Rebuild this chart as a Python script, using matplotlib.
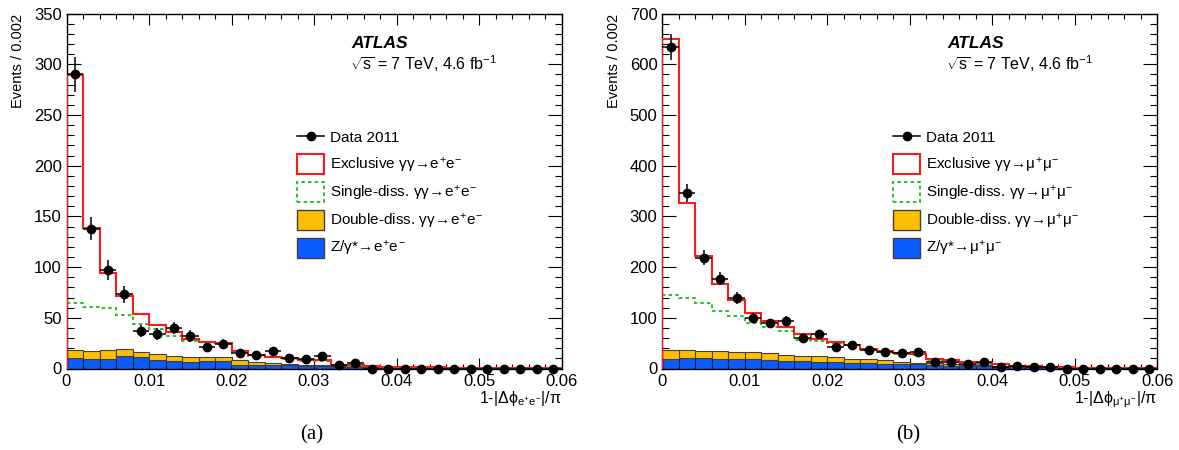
import numpy as np
import matplotlib
matplotlib.use("Agg")
import matplotlib.pyplot as plt
from matplotlib.patches import Rectangle
from matplotlib.lines import Line2D

# ---------------- data ----------------
bin_edges = np.round(np.arange(0, 0.0601, 0.002), 4)
x_ticks = [0, 0.01, 0.02, 0.03, 0.04, 0.05, 0.06]
x_ticklabels = ["0", "0.01", "0.02", "0.03", "0.04", "0.05", "0.06"]
y_ticks_ee = [0, 50, 100, 150, 200, 250, 300, 350]
y_ticks_mm = [0, 100, 200, 300, 400, 500, 600, 700]

# (a) e+e- channel: per-bin components (stacked in the plot)
z_ee = [9.9, 8.9, 9.2, 12.5, 10.9, 7.9, 7.2, 6.3, 7.2, 7.2, 3.9, 3.0, 3.3, 3.0, 2.0,
        2.3, 1.3, 1.0, 0.8, 0.7, 0.6, 0.5, 0.4, 0.4, 0.3, 0.3, 0.2, 0.2, 0.2, 0.1]
dd_ee = [7.9, 7.9, 8.6, 6.3, 5.5, 6.2, 5.6, 4.9, 4.0, 4.0, 4.0, 3.3, 2.6, 1.6, 1.9,
         1.6, 1.3, 1.0, 0.8, 0.7, 0.6, 0.5, 0.4, 0.3, 0.3, 0.2, 0.2, 0.2, 0.1, 0.1]
sd_ee = [47.2, 44.2, 42.2, 33.8, 27.4, 24.7, 19.4, 16.1, 14.5, 12.8, 8.5, 6.2, 5.0, 4.6, 3.7,
         3.3, 0.7, 0.6, 0.4, 0.2, 0.1, 0.1, 0.1, 0.0, 0.0, 0.0, 0.0, 0.0, 0.0, 0.0]
excl_ee = [224, 78, 34, 18.4, 9.8, 4.0, 3.3, 1.7, 0.9, 1.0, 1.0, 0.7, 0.6, 1.0, 0.6,
           1.0, 0.6, 0.7, 0.4, 0.3, 0.2, 0.2, 0.2, 0.1, 0.1, 0.1, 0.1, 0.1, 0.1, 0.1]
data_ee = [290, 138, 97, 73, 37, 34, 40, 32, 21, 24, 15, 13, 17, 10, 9,
           12, 3, 5, 0, 0, 0, 0, 0, 0, 0, 0, 0, 0, 0, 0]

# (b) mu+mu- channel
z_mm = [19.7, 21.0, 20.4, 18.4, 18.4, 19.7, 16.4, 15.1, 15.1, 13.8, 12.5, 11.8, 10.5, 9.2, 8.5,
        7.9, 6.6, 5.9, 5.0, 4.3, 3.6, 3.0, 2.5, 2.0, 1.6, 1.3, 1.0, 0.8, 0.6, 0.5]
dd_mm = [17.1, 15.0, 14.4, 15.8, 14.5, 11.9, 13.2, 11.9, 10.5, 9.9, 9.2, 7.9, 7.9, 7.2, 5.3,
         3.9, 3.3, 2.6, 2.0, 1.7, 1.4, 1.2, 0.9, 0.7, 0.6, 0.5, 0.4, 0.3, 0.3, 0.2]
sd_mm = [108.2, 103, 94.2, 79.8, 71.6, 59.1, 53.2, 46, 30.9, 30.9, 28.3, 26.3, 20.4, 15.8, 15.2,
         14.5, 7.1, 6.5, 6.0, 3.4, 3.0, 1.0, 0.6, 0.2, 0.1, 0.05, 0.05, 0.05, 0.05, 0.05]
excl_mm = [504, 188, 92.5, 53, 30.5, 18.3, 9.9, 7.9, 11.9, 3.9, 1.3, 1.3, 0.6, 2.6, 1.2,
           2.6, 2.0, 1.4, 0.8, 0.5, 0.5, 0.3, 0.2, 0.1, 0.1, 0.05, 0.05, 0.05, 0.05, 0.05]
data_mm = [634, 346, 218, 177, 139, 99, 89, 94, 60, 68, 43, 46, 37, 32, 31,
           32, 12, 13, 9, 12, 3, 5, 3, 3, 0, 0, 0, 0, 0, 0]

labels_ee = ["Data 2011",
             r"Exclusive $\gamma\gamma\!\rightarrow\! e^{+}e^{-}$",
             r"Single-diss. $\gamma\gamma\!\rightarrow\! e^{+}e^{-}$",
             r"Double-diss. $\gamma\gamma\!\rightarrow\! e^{+}e^{-}$",
             r"Z/$\gamma$*$\!\rightarrow\! e^{+}e^{-}$"]
labels_mm = ["Data 2011",
             r"Exclusive $\gamma\gamma\!\rightarrow\!\mu^{+}\mu^{-}$",
             r"Single-diss. $\gamma\gamma\!\rightarrow\!\mu^{+}\mu^{-}$",
             r"Double-diss. $\gamma\gamma\!\rightarrow\!\mu^{+}\mu^{-}$",
             r"Z/$\gamma$*$\!\rightarrow\!\mu^{+}\mu^{-}$"]
xlabel_ee = r"1-|$\Delta\phi_{e^{+}e^{-}}$|/$\pi$"
xlabel_mm = r"1-|$\Delta\phi_{\mu^{+}\mu^{-}}$|/$\pi$"

# ---------------- style ----------------
plt.rcParams['font.family'] = ['Liberation Sans', 'DejaVu Sans']
plt.rcParams['mathtext.fontset'] = 'custom'
plt.rcParams['mathtext.rm'] = 'Liberation Sans'
plt.rcParams['mathtext.it'] = 'Liberation Sans'
plt.rcParams['mathtext.sf'] = 'Liberation Sans'
plt.rcParams['mathtext.bf'] = 'Liberation Sans:bold'

RED = '#ff1a1a'
GREEN = '#2dbd2d'
ORANGE = '#ffbf00'
BLUE = '#0a5cff'

W, H = 1179, 450
fig = plt.figure(figsize=(W / 100, H / 100), dpi=100)

def px_axes(x0, y_top, x1, y_bot):
    return [x0 / W, 1 - y_bot / H, (x1 - x0) / W, (y_bot - y_top) / H]

ax_a = fig.add_axes(px_axes(66.5, 13.5, 561.5, 368.5))
ax_b = fig.add_axes(px_axes(662.3, 13.5, 1157.3, 368.5))

centers = 0.5 * (bin_edges[:-1] + bin_edges[1:])
widths = np.diff(bin_edges)


def draw_panel(ax, z, dd, sd, excl, data, ymax, yticks, ymin_step, labels, xlabel):
    z = np.array(z, float)
    dd = np.array(dd, float)
    sd = np.array(sd, float)
    excl = np.array(excl, float)
    data = np.array(data, float)
    lvl_dd = z + dd
    lvl_sd = lvl_dd + sd
    lvl_ex = lvl_sd + excl

    ax.bar(centers, z, width=widths, color=BLUE, edgecolor='#1a1a1a', linewidth=0.8, zorder=2)
    ax.bar(centers, dd, bottom=z, width=widths, color=ORANGE, edgecolor='#404040',
           linewidth=0.8, zorder=2)
    ax.stairs(lvl_sd, bin_edges, color=GREEN, linewidth=1.4, linestyle=(0, (1.8, 1.6)),
              baseline=None, zorder=3)
    ax.stairs(lvl_ex, bin_edges, color=RED, linewidth=1.5, baseline=0, zorder=4)

    yerr = np.sqrt(data)
    ax.errorbar(centers, data, yerr=yerr, xerr=widths / 2, fmt='o', color='black',
                markersize=6, elinewidth=1.1, capsize=0, zorder=5, clip_on=False)

    ax.set_xlim(0, 0.06)
    ax.set_ylim(0, ymax)
    ax.set_xticks(x_ticks)
    ax.set_xticklabels(x_ticklabels)
    ax.set_xticks(np.arange(0, 0.0601, 0.002), minor=True)
    ax.set_yticks(yticks)
    ax.set_yticklabels([str(v) for v in yticks])
    ax.set_yticks(np.arange(0, ymax + 0.1, ymin_step), minor=True)
    ax.tick_params(axis='both', which='both', direction='in', top=True, right=True,
                   labelsize=12, width=0.8, colors='black')
    ax.tick_params(axis='x', which='major', length=7.6, pad=4.0)
    ax.tick_params(axis='x', which='minor', length=3.8)
    ax.tick_params(axis='y', which='major', length=10, pad=3.5)
    ax.tick_params(axis='y', which='minor', length=5)
    for s in ax.spines.values():
        s.set_linewidth(1.0)

    ax.set_ylabel("Events / 0.002", fontsize=10.5, loc='top')
    ax.yaxis.set_label_coords(-0.083, 1.0)
    ax.set_xlabel(xlabel, fontsize=11.5, loc='right')
    ax.xaxis.set_label_coords(1.0, -0.058)

    def ax_pt(dx, ypx):
        return (dx / 495.0, (368.5 - ypx) / 355.0)

    ax.text(*ax_pt(285.2, 47.5), "ATLAS", fontsize=12.5, fontweight='bold', fontstyle='italic',
            transform=ax.transAxes, va='baseline', ha='left')
    ax.text(*ax_pt(283.5, 69.5), r"$\sqrt{s}$ = 7 TeV, 4.6 fb$^{-1}$", fontsize=11.5,
            transform=ax.transAxes, va='baseline', ha='left')

    # legend
    row_y = [136.0 + 27.9 * i for i in range(5)]
    bx0, bx1 = 230.8, 257.8
    tx = 263.5
    yy = ax_pt(0, row_y[0])[1]
    ax.add_line(Line2D([bx0 / 495, bx1 / 495], [yy, yy], color='black', lw=1.1,
                       transform=ax.transAxes))
    ax.add_line(Line2D([(bx0 + bx1) / 2 / 495], [yy], color='black', marker='o',
                       markersize=6, transform=ax.transAxes))
    styles = [dict(facecolor='white', edgecolor=RED, lw=1.5, ls='-'),
              dict(facecolor='white', edgecolor=GREEN, lw=1.4, ls=(0, (1.8, 1.6))),
              dict(facecolor=ORANGE, edgecolor='#404040', lw=1.0, ls='-'),
              dict(facecolor=BLUE, edgecolor='#404040', lw=1.0, ls='-')]
    for i, st in enumerate(styles):
        yc = row_y[i + 1]
        x0, y0 = ax_pt(bx0, yc + 10)
        x1, y1 = ax_pt(bx1, yc - 10)
        ax.add_patch(Rectangle((x0, y0), x1 - x0, y1 - y0, transform=ax.transAxes,
                               facecolor=st['facecolor'], edgecolor=st['edgecolor'],
                               linewidth=st['lw'], linestyle=st['ls'], zorder=6))
    for i, lab in enumerate(labels):
        ax.text(*ax_pt(tx, row_y[i] + 5.5), lab, fontsize=11, transform=ax.transAxes,
                va='baseline', ha='left')


draw_panel(ax_a, z_ee, dd_ee, sd_ee, excl_ee, data_ee, 350, y_ticks_ee, 10, labels_ee, xlabel_ee)
draw_panel(ax_b, z_mm, dd_mm, sd_mm, excl_mm, data_mm, 700, y_ticks_mm, 20, labels_mm, xlabel_mm)

fig.text(311.7 / W, 1 - 435 / H, "(a)", family='Liberation Serif', fontsize=15,
         ha='center', va='center')
fig.text(908.3 / W, 1 - 435 / H, "(b)", family='Liberation Serif', fontsize=15,
         ha='center', va='center')

fig.savefig("out.png", dpi=100)
